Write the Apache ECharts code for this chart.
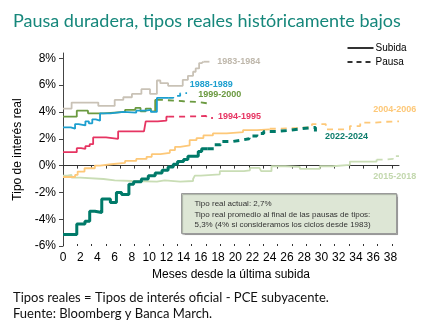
<!DOCTYPE html>
<html>
<head>
<meta charset="utf-8">
<script src="https://cdn.jsdelivr.net/npm/echarts@6/dist/echarts.min.js"></script>
<style>
  html, body { margin: 0; padding: 0; background: #ffffff; }
  #chart { width: 446px; height: 333px; }
</style>
</head>
<body>
<div id="chart"></div>
<script>
// Real policy rate (%) by months since the first hike of each cycle.
// Solid = hiking phase ("Subida"), dashed = hold phase ("Pausa").

const c1983Subida = [[0,4.25],[1,4.7],[4.1,4.45],[6,4.9],[7,5.1],[8,5.35],[9.1,5.7],[10.1,5.35],[10.9,6.35],[11.3,6.15],[12.2,5.95],[13.9,6.4],[14.5,6.7],[15.1,7.0],[15.4,7.25],[15.8,7.65],[16.1,7.75],[16.3,7.75]];
const c1983Pausa  = [[16.3,7.75],[17.3,7.75]];

const c1988Subida = [[0,2.85],[0.9,2.75],[1.4,3.1],[1.8,3.0],[2.6,3.3],[3.0,3.15],[3.4,3.45],[3.8,3.35],[4.3,3.9],[5.5,4.0],[7,3.95],[8.5,4.1],[9.6,4.15],[10.2,4.0],[10.9,5.05],[12.2,5.05]];
const c1988Pausa  = [[12.2,5.05],[12.8,5.2],[13.6,5.4],[14.4,5.4]];

const c1999Subida = [[0,3.65],[1.6,4.1],[2.9,3.9],[4.7,4.0],[7.2,4.15],[8.4,4.3],[9,4.05],[9.6,4.25],[10.2,4.05],[10.7,4.9],[10.9,4.9]];
const c1999Pausa  = [[10.9,4.9],[11.5,4.8],[14,4.75],[15.5,4.65],[16.7,4.6]];

const c1994Subida = [[0,1.0],[1.6,1.3],[2.1,1.25],[2.6,1.45],[3.1,1.6],[3.5,2.1],[5,2.0],[6.4,2.55],[9.4,2.5],[9.6,3.3],[11,3.35],[12,3.65],[12.2,3.65]];
const c1994Pausa  = [[12.2,3.65],[14,3.7],[16.6,3.7],[16.8,3.55],[17.4,3.55]];

const c2004Subida = [[0,-0.85],[1.4,-0.7],[1.7,-0.45],[2.5,-0.2],[3.7,0.0],[4.3,0.1],[5.6,0.2],[7.2,0.35],[8.5,0.5],[9.7,0.65],[10.3,0.85],[11.3,0.95],[12.4,1.15],[13,1.4],[13.6,1.5],[14.7,1.9],[15.5,2.05],[16.3,2.25],[17.4,2.4],[19,2.5],[20.9,2.65],[22.5,2.7],[24,2.75]];
const c2004Pausa  = [[24,2.75],[25.2,2.8],[27,2.85],[28.9,3.1],[30.5,2.7],[33.3,2.95],[34.5,3.2],[36,3.27],[37.5,3.3],[39,3.3]];

const c2015Subida = [[0,-0.75],[0.5,-0.7],[1,-0.9],[2,-1.0],[4.7,-1.1],[6,-1.15],[8,-1.2],[10.9,-1.1],[11.8,-1.2],[13.6,-1.15],[15.1,-1.0],[15.3,-0.75],[16,-0.65],[18.2,-0.42],[21,-0.35],[21.7,-0.17],[22.8,-0.2],[23,-0.42],[24.2,-0.05],[25.8,-0.1],[27.5,-0.25],[29.8,-0.05],[31.3,0.05],[33.3,0.3],[36.4,0.45]];
const c2015Pausa  = [[36.4,0.45],[37.5,0.5],[38.3,0.7],[39,0.75]];

const c2022Subida = [[0,-5.15],[1.6,-4.35],[2.55,-4.15],[3.1,-3.4],[3.7,-3.5],[4.5,-2.5],[5.5,-2.75],[6.2,-2.0],[6.8,-2.15],[7.65,-1.4],[8.2,-1.2],[9.1,-1.0],[9.9,-0.75],[10.7,-0.55],[11.5,-0.35],[12.2,-0.1],[12.8,0.1],[13.3,0.3],[14,0.45],[14.5,0.7],[15.7,1.05],[16.1,1.25],[16.8,1.25]];
const c2022Pausa  = [[16.8,1.25],[17.5,1.55],[18.3,1.8],[19.7,1.9],[20.7,2.0],[21.6,2.2],[22.5,2.4],[23.3,2.55],[24.8,2.62],[26.2,2.75],[27.7,2.85],[29,2.85],[29.3,2.5],[29.8,2.5]];

// Cycle label anchors [month, rate]
const cycleLabels = [
  ['1983-1984', 17.9, 7.73],
  ['1988-1989', 14.7, 6.07],
  ['1999-2000', 15.7, 5.27],
  ['1994-1995', 18.0, 3.65],
  ['2004-2006', 36.0, 4.15],
  ['2022-2024', 30.4, 2.16],
  ['2015-2018', 36.0, -0.83]
];

const xTickLabels = [0,2,4,6,8,10,12,14,16,18,20,22,24,26,28,30,32,34,36,38];
const yTickLabels = [-6,-4,-2,0,2,4,6,8];

const titleText = 'Pausa duradera, tipos reales históricamente bajos';
const legendNames = ['Subida', 'Pausa'];
const noteLines = [
  'Tipo real actual: 2,7%',
  'Tipo real promedio al final de las pausas de tipos:',
  '5,3% (4% si consideramos los ciclos desde 1983)'
];
const footerLines = [
  'Tipos reales = Tipos de interés oficial - PCE subyacente.',
  'Fuente: Bloomberg y Banca March.'
];

// ---- styling ----
const palette = {
  '1983-1984': '#c9c2b6',
  '1988-1989': '#1c9fcf',
  '1999-2000': '#6b9a40',
  '1994-1995': '#e63462',
  '2004-2006': '#fdc878',
  '2015-2018': '#c9ddb5',
  '2022-2024': '#007a69'
};
const labelColors = {
  '1983-1984': '#bfb8ac',
  '1988-1989': '#1c9fcf',
  '1999-2000': '#6b9a40',
  '1994-1995': '#e63462',
  '2004-2006': '#fdc878',
  '2015-2018': '#c3d8ae',
  '2022-2024': '#0d7d6c'
};

const cycles = [
  ['1983-1984', c1983Subida, c1983Pausa, 1.8],
  ['1999-2000', c1999Subida, c1999Pausa, 1.8],
  ['1988-1989', c1988Subida, c1988Pausa, 1.8],
  ['1994-1995', c1994Subida, c1994Pausa, 1.8],
  ['2015-2018', c2015Subida, c2015Pausa, 1.8],
  ['2004-2006', c2004Subida, c2004Pausa, 1.8],
  ['2022-2024', c2022Subida, c2022Pausa, 3]
];

const FONT = 'Liberation Sans, Arial, sans-serif';
const X_MAX = 39;
const Y_MIN = -6, Y_MAX = 8.4;
const tickStep = 1.66;
const xTickMarks = [];
for (let k = 0; k * tickStep <= X_MAX; k++) xTickMarks.push(+(k * tickStep).toFixed(3));

const series = [];
cycles.forEach(([name, up, hold, w]) => {
  series.push({
    type: 'line', step: 'end', data: up, symbol: 'none', silent: true,
    lineStyle: { color: palette[name], width: w, type: 'solid' }, z: 3
  });
  series.push({
    type: 'line', step: 'end', data: hold, symbol: 'none', silent: true,
    lineStyle: { color: palette[name], width: w, type: [6, 5] }, z: 3
  });
});

const chart = echarts.init(document.getElementById('chart'), null, { renderer: 'canvas' });

const gridLeft = 63, gridTop = 53, gridW = 336, gridH = 193;

// legend drawn as a small key: solid line for hikes, dashed for holds
const legendKey = legendNames.map((n, i) => ({
  type: 'group', left: 345, top: 43 + i * 14,
  children: [
    { type: 'line', shape: { x1: 0, y1: 5, x2: 26, y2: 5 },
      style: { stroke: '#333', lineWidth: 2, lineDash: i === 0 ? null : [5, 4] } },
    { type: 'text', x: 28, y: 5,
      style: { text: n, fill: '#000', font: '10px ' + FONT, textVerticalAlign: 'middle' } }
  ]
}));

chart.setOption({
  animation: false,
  backgroundColor: '#ffffff',
  textStyle: { fontFamily: FONT },
  title: {
    text: titleText, left: 8, top: 7,
    textStyle: { fontFamily: 'Lato, sans-serif', fontWeight: 'normal', fontSize: 18, color: '#16877b' }
  },
  grid: { left: gridLeft, top: gridTop, width: gridW, height: gridH, containLabel: false },
  xAxis: [
    { // bottom tick labels
      type: 'value', min: 0, max: X_MAX, position: 'bottom',
      axisLine: { show: false, onZero: false }, axisTick: { show: false }, splitLine: { show: false },
      axisLabel: { customValues: xTickLabels, color: '#000', fontSize: 12, margin: 6, fontFamily: FONT },
      name: 'Meses desde la última subida', nameLocation: 'middle', nameGap: 17,
      nameTextStyle: { color: '#000', fontSize: 12, fontFamily: FONT }
    },
    { // axis line through zero, ticks below
      type: 'value', min: 0, max: X_MAX, position: 'bottom',
      axisLine: { show: true, onZero: true, lineStyle: { color: '#333', width: 1 } },
      axisTick: { show: true, customValues: xTickMarks, length: 3, lineStyle: { color: '#333' } },
      axisLabel: { show: false }, splitLine: { show: false }
    },
    { // ticks above the zero line
      type: 'value', min: 0, max: X_MAX, position: 'bottom',
      axisLine: { show: false, onZero: true },
      axisTick: { show: true, inside: true, customValues: xTickMarks, length: 2, lineStyle: { color: '#333' } },
      axisLabel: { show: false }, splitLine: { show: false }
    }
  ],
  yAxis: {
    type: 'value', min: Y_MIN, max: Y_MAX,
    axisLine: { show: true, onZero: false, lineStyle: { color: '#444', width: 1 } },
    axisTick: { show: true, customValues: yTickLabels, length: 4, lineStyle: { color: '#444' } },
    splitLine: { show: false },
    axisLabel: { customValues: yTickLabels, formatter: v => v + '%', color: '#000', fontSize: 12, margin: 7, fontFamily: FONT },
    name: 'Tipo de interés real', nameLocation: 'middle', nameGap: 25, nameRotate: 90,
    nameTextStyle: { color: '#000', fontSize: 12, fontFamily: FONT }
  },
  series: series,
  graphic: [
    {
      type: 'group', left: 181, top: 193,
      children: [
        { type: 'rect', shape: { x: 0, y: 0, width: 215, height: 40 },
          style: { fill: '#dde6d5', stroke: '#9a9a9a', lineWidth: 1, shadowColor: 'rgba(0,0,0,0.25)', shadowOffsetX: 1, shadowOffsetY: 1, shadowBlur: 1 } },
        ...noteLines.map((t, i) => ({
          type: 'text', x: 13, y: 10.5 + i * 10.5,
          style: { text: t, fill: '#333', font: '8px ' + FONT, textVerticalAlign: 'middle' }
        }))
      ]
    },
    ...legendKey,
    ...footerLines.map((t, i) => ({
      type: 'text', left: 13, top: 291 + i * 16,
      style: { text: t, fill: '#111', font: '13px Lato, sans-serif' }
    }))
  ]
});

// cycle labels anchored in data coordinates
const labelGraphics = cycleLabels.map(([txt, m, v], i) => {
  const p = chart.convertToPixel({ gridIndex: 0 }, [m, v]);
  return {
    id: 'lbl' + i, type: 'text', x: p[0], y: p[1], z: 10,
    style: { text: txt, fill: labelColors[txt], font: 'bold 9px ' + FONT, textVerticalAlign: 'middle' }
  };
});
chart.setOption({ graphic: labelGraphics });
</script>
</body>
</html>
